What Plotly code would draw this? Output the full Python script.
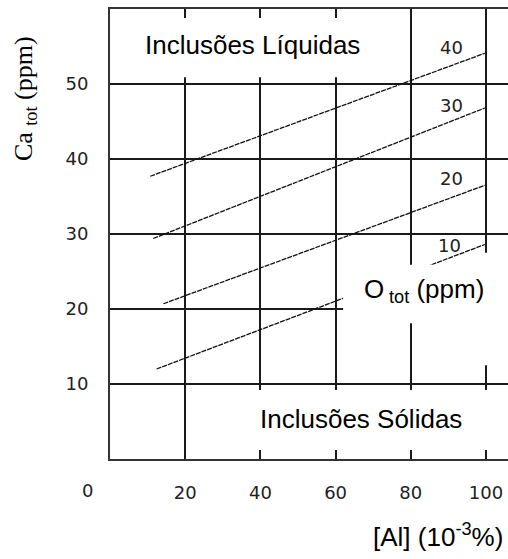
import plotly.graph_objects as go

# ---- data ----
o_levels = [10, 20, 30, 40]                 # O_tot (ppm) iso-lines
al_start = [12.4, 14.2, 11.5, 10.7]         # [Al] at line start
ca_start = [12.0, 20.7, 29.4, 37.7]         # Ca_tot at line start
al_end = [99.7, 99.7, 99.7, 99.7]           # [Al] at line end
ca_end = [28.6, 36.5, 46.8, 54.1]           # Ca_tot at line end
label_al = [90.2, 90.8, 90.8, 90.8]         # label position of each iso-line
label_ca = [28.5, 37.4, 47.2, 54.9]

x_ticks = [20, 40, 60, 80, 100]
y_ticks = [10, 20, 30, 40, 50]

X_RANGE = [0, 105.85]
Y_RANGE = [0, 60]

fig = go.Figure()

for lvl, xs, ys, xe, ye in zip(o_levels, al_start, ca_start, al_end, ca_end):
    fig.add_trace(go.Scatter(
        x=[xs, xe], y=[ys, ye], mode="lines",
        line=dict(color="#111111", width=1.3, dash="5px,1px"),
        showlegend=False, hoverinfo="skip", name=str(lvl)))

tick_font = dict(family="DejaVu Sans", size=18, color="#222222")
big_font = dict(family="Liberation Sans, Arial", size=26, color="#000000")

for lvl, lx, ly in zip(o_levels, label_al, label_ca):
    fig.add_annotation(x=lx, y=ly, xref="x", yref="y", text=str(lvl),
                       showarrow=False, font=tick_font,
                       xanchor="center", yanchor="middle")

# white boxes behind the region labels
white_boxes = [
    (0.5, 77.1, 50.9, 58.8),    # Inclusões Líquidas
    (21.3, 107, 1.2, 9.2),      # Inclusões Sólidas
    (62.0, 107, 18.1, 25.9),    # O tot (ppm)
    (97.9, 107, 12.5, 27.5),    # gap in the x=100 grid line
]
for x0, x1, y0, y1 in white_boxes:
    fig.add_shape(type="rect", xref="x", yref="y", x0=x0, x1=x1, y0=y0, y1=y1,
                  fillcolor="white", line=dict(width=0), layer="above")

fig.add_annotation(x=38.0, y=55.2, xref="x", yref="y", text="Inclusões Líquidas",
                   showarrow=False, font=big_font, xanchor="center", yanchor="middle")
fig.add_annotation(x=66.8, y=5.4, xref="x", yref="y", text="Inclusões Sólidas",
                   showarrow=False, font=big_font, xanchor="center", yanchor="middle")
fig.add_annotation(x=66.9, y=22.5, xref="x", yref="y",
                   text="O<span style='font-size:17px'> </span><sub>tot</sub> (ppm)",
                   showarrow=False, font=big_font, xanchor="left", yanchor="middle")

# axis titles and origin label
fig.add_annotation(x=-0.2136, y=0.802, xref="paper", yref="paper",
                   text="Ca <sub>tot</sub> (ppm)", textangle=-90, showarrow=False,
                   font=dict(family="Liberation Serif, Times New Roman", size=26, color="#000"),
                   xanchor="center", yanchor="middle")
fig.add_annotation(x=0.9925, y=-0.169, xref="paper", yref="paper",
                   text="[Al] (10<sup>-3</sup>%)", showarrow=False, font=big_font,
                   xanchor="right", yanchor="middle")
fig.add_annotation(x=-0.0565, y=-0.0689, xref="paper", yref="paper", text="0",
                   showarrow=False, font=tick_font, xanchor="center", yanchor="middle")

fig.update_xaxes(range=X_RANGE, tickvals=x_ticks, ticktext=[str(v) for v in x_ticks],
                 showgrid=True, gridcolor="#1a1a1a", gridwidth=1.6,
                 showline=True, linecolor="#333333", linewidth=2, mirror=True,
                 ticks="", ticklabelstandoff=16, tickfont=tick_font, zeroline=False,
                 fixedrange=True)
fig.update_yaxes(range=Y_RANGE, tickvals=y_ticks, ticktext=[str(v) for v in y_ticks],
                 showgrid=True, gridcolor="#1a1a1a", gridwidth=1.6,
                 showline=True, linecolor="#333333", linewidth=2, mirror=False,
                 ticks="", ticklabelstandoff=16, tickfont=tick_font, zeroline=False,
                 fixedrange=True)

fig.update_layout(width=508, height=559,
                  margin=dict(l=110, r=0, t=9, b=100),
                  paper_bgcolor="white", plot_bgcolor="white",
                  showlegend=False)

fig.write_html("out.html", config={"displayModeBar": False})
